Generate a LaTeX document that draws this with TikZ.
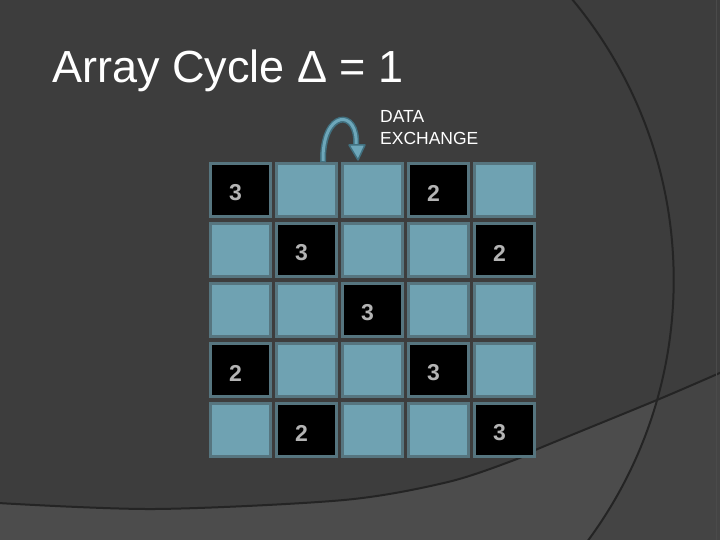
\documentclass[tikz,border=0pt]{standalone}
\usepackage{fontspec}
\setmainfont{Liberation Sans}
\usetikzlibrary{calc}
\definecolor{bg}{HTML}{3D3D3D}
\definecolor{lowleft}{HTML}{4C4C4C}
\definecolor{lowright}{HTML}{444444}
\definecolor{curvecol}{HTML}{242424}
\definecolor{edgecol}{HTML}{4A4A4A}
\definecolor{cellborder}{HTML}{56757F}
\definecolor{cellfill}{HTML}{6FA2B2}
\definecolor{digitgray}{HTML}{B4B4B4}
\definecolor{arrowout}{HTML}{41707F}
\definecolor{arrowin}{HTML}{6DA7BA}
\tikzset{
  cellbase/.style={rectangle, minimum width=60pt, minimum height=53pt, line width=3pt, draw=cellborder, inner sep=0pt},
  lightcell/.style={cellbase, fill=cellfill},
  darkcell/.style={cellbase, fill=black},
  digit/.style={inner sep=0pt, text=digitgray, font=\bfseries\fontsize{23}{23}\selectfont},
  bgcurve/.style={draw=curvecol, line width=2pt},
}
\begin{document}
\begin{tikzpicture}[x=1pt,y=-1pt]
\useasboundingbox (0,0) rectangle (720,540);
\begin{scope}
\clip (0,0) rectangle (720,540);
\fill[bg] (0,0) rectangle (720,540);
% lower lighter region
\begin{scope}
\clip plot[smooth] coordinates {(-2,503) (155,509) (344,500) (448,482) (517,459) (540,448) (657,400) (722,372)} -- (722,542) -- (-2,542) -- cycle;
\fill[lowright] (0,0) rectangle (720,540);
\fill[lowleft] (235,280) circle (438.7);
\end{scope}
\draw[bgcurve] plot[smooth] coordinates {(-2,503) (155,509) (344,500) (448,482) (517,459) (540,448) (657,400) (722,372)};
\draw[bgcurve] (235,280) circle (438.7);
\draw[edgecol, line width=1pt] (716,0) -- (716,540);
\end{scope}

% title
\node[anchor=base west, inner sep=0pt, text=white, font=\fontsize{45}{45}\selectfont] (title) at (52,83) {Array Cycle Δ = 1};
\node[anchor=base west, inner sep=0pt, text=white, font=\fontsize{17.5}{22}\selectfont] (data) at (380,123) {DATA};
\node[anchor=base west, inner sep=0pt, text=white, font=\fontsize{17.5}{22}\selectfont] (exch) at (380,145) {EXCHANGE};

% grid
\foreach \r/\c/\kind in {
 1/1/darkcell,1/2/lightcell,1/3/lightcell,1/4/darkcell,1/5/lightcell,
 2/1/lightcell,2/2/darkcell,2/3/lightcell,2/4/lightcell,2/5/darkcell,
 3/1/lightcell,3/2/lightcell,3/3/darkcell,3/4/lightcell,3/5/lightcell,
 4/1/darkcell,4/2/lightcell,4/3/lightcell,4/4/darkcell,4/5/lightcell,
 5/1/lightcell,5/2/darkcell,5/3/lightcell,5/4/lightcell,5/5/darkcell}
{
  \node[\kind] (c\r\c) at ({240.5+66*(\c-1)},{190+60*(\r-1)}) {};
}
\foreach \r/\c/\n in {1/1/3,1/4/2,2/2/3,2/5/2,3/3/3,4/1/2,4/4/3,5/2/2,5/5/3}
{
  \node[digit] (d\r\c) at ($(c\r\c)+(-5,3)$) {\n};
}

% data exchange arrow
\coordinate (astart) at ($(c12.north)+(16.5,0)$);
\coordinate (aend) at ($(c13.north)+(-16.5,-16)$);
\draw[arrowout, line width=6pt] (astart) .. controls ($(astart)+(-1,-53)$) and ($(aend)+(3,-38)$) .. (aend);
\draw[arrowin, line width=3pt] ($(astart)+(0,-1)$) .. controls ($(astart)+(-1,-53)$) and ($(aend)+(3,-38)$) .. (aend);
\filldraw[fill=arrowin, draw=arrowout, line width=1.5pt, line join=round] ($(aend)+(-7,-1)$) -- ($(aend)+(9,-1)$) -- ($(aend)+(2,14)$) -- cycle;
\end{tikzpicture}
\end{document}
